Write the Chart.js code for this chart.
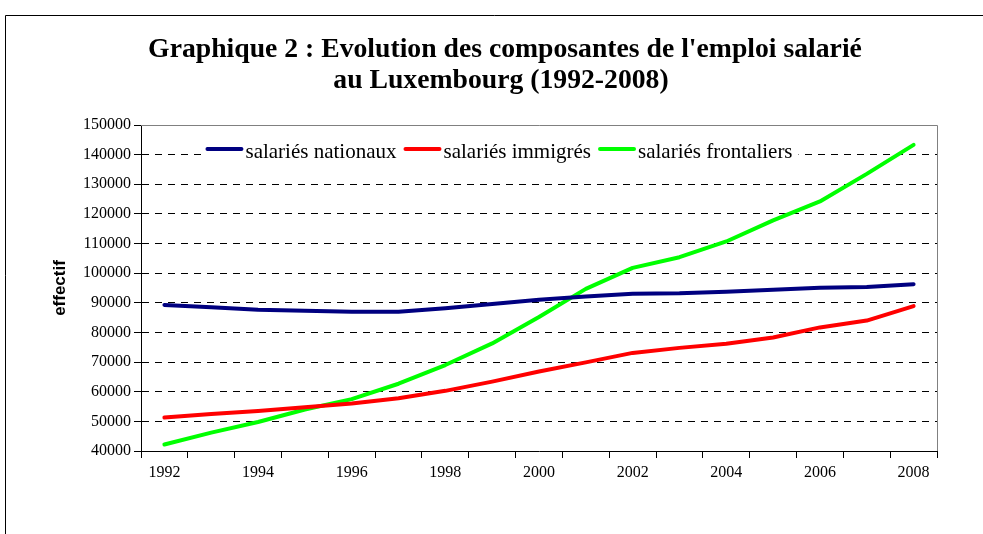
<!DOCTYPE html>
<html>
<head>
<meta charset="utf-8">
<script src="https://cdn.jsdelivr.net/npm/chart.js@4/dist/chart.umd.min.js"></script>
<style>
  html, body { margin: 0; padding: 0; background: #fff; }
  canvas { display: block; }
</style>
</head>
<body>
<canvas id="emploiChart" width="983" height="534"></canvas>
<script>
// Données
const annees = ['1992', '1993', '1994', '1995', '1996', '1997', '1998', '1999', '2000',
                '2001', '2002', '2003', '2004', '2005', '2006', '2007', '2008'];
const nationaux = [89300, 88500, 87700, 87300, 87000, 87000, 88200, 89600, 91000,
                   92100, 93100, 93200, 93700, 94400, 95100, 95300, 96300];
const immigres = [51300, 52500, 53500, 54800, 56000, 57800, 60300, 63400, 66800,
                  69900, 73100, 74800, 76200, 78300, 81700, 84000, 88900];
const frontaliers = [42200, 46200, 49800, 54000, 57500, 62700, 69000, 76300, 85200,
                     94700, 101800, 105400, 110700, 117800, 124200, 133500, 143300];
const titre = ["Graphique 2 : Evolution des composantes de l'emploi salarié",
               "au Luxembourg (1992-2008)"];

const serif = "'Liberation Serif', 'Times New Roman', serif";

// cadre, titre, bordure grise du graphique et légende
const decorPlugin = {
    id: 'decor',
    beforeDraw(chart) {
        const ctx = chart.ctx;
        ctx.save();
        ctx.fillStyle = '#fff';
        ctx.fillRect(0, 0, chart.width, chart.height);
        ctx.strokeStyle = '#000';
        ctx.lineWidth = 1;
        ctx.beginPath();
        ctx.moveTo(5.5, chart.height + 5);
        ctx.lineTo(5.5, 15.5);
        ctx.lineTo(chart.width + 5, 15.5);
        ctx.stroke();

        ctx.fillStyle = '#000';
        ctx.font = 'bold 27.7px ' + serif;
        ctx.textAlign = 'center';
        ctx.textBaseline = 'alphabetic';
        ctx.fillText(titre[0], 505, 57);
        ctx.fillText(titre[1], 501, 88);
        ctx.restore();
    },
    beforeDatasetsDraw(chart) {
        const {ctx, chartArea: a} = chart;
        ctx.save();
        ctx.strokeStyle = '#808080';
        ctx.lineWidth = 1;
        ctx.beginPath();
        ctx.moveTo(a.left, Math.round(a.top) + 0.5);
        ctx.lineTo(Math.round(a.right) + 0.5, Math.round(a.top) + 0.5);
        ctx.lineTo(Math.round(a.right) + 0.5, a.bottom);
        ctx.stroke();
        ctx.restore();
    },
    afterDatasetsDraw(chart) {
        const ctx = chart.ctx;
        const sets = chart.data.datasets;
        ctx.save();
        ctx.font = '21px ' + serif;
        const lineLen = 34, gap = 4, spacing = 9;
        let total = 0;
        sets.forEach((ds, i) => {
            total += lineLen + gap + ctx.measureText(ds.label).width + (i < sets.length - 1 ? spacing : 0);
        });
        let x = 500 - total / 2;
        ctx.fillStyle = '#fff';
        ctx.fillRect(x - 6, 139, total + 12, 26);
        ctx.textBaseline = 'alphabetic';
        sets.forEach(ds => {
            ctx.strokeStyle = ds.borderColor;
            ctx.lineWidth = 4;
            ctx.lineCap = 'round';
            ctx.beginPath();
            ctx.moveTo(x, 149);
            ctx.lineTo(x + lineLen, 149);
            ctx.stroke();
            x += lineLen + gap;
            ctx.fillStyle = '#000';
            ctx.fillText(ds.label, x, 158);
            x += ctx.measureText(ds.label).width + spacing;
        });
        ctx.restore();
    }
};

const serie = (label, data, color) => ({
    label: label,
    data: data,
    borderColor: color,
    backgroundColor: color,
    borderWidth: 4,
    borderCapStyle: 'round',
    borderJoinStyle: 'round',
    pointRadius: 0,
    tension: 0,
    fill: false
});

new Chart(document.getElementById('emploiChart'), {
    type: 'line',
    data: {
        labels: annees,
        datasets: [
            serie('salariés nationaux', nationaux, '#000080'),
            serie('salariés immigrés', immigres, '#ff0000'),
            serie('salariés frontaliers', frontaliers, '#00ff00')
        ]
    },
    plugins: [decorPlugin],
    options: {
        responsive: false,
        animation: false,
        devicePixelRatio: 1,
        layout: { padding: { left: 50, right: 46, top: 125, bottom: 0 } },
        plugins: {
            legend: { display: false },
            title: { display: false },
            tooltip: { enabled: false }
        },
        scales: {
            x: {
                type: 'category',
                offset: true,
                grid: { offset: true, drawOnChartArea: false, drawTicks: true, tickLength: 7, color: '#000' },
                border: { display: true, color: '#000', width: 1 },
                ticks: {
                    autoSkip: false,
                    maxRotation: 0,
                    padding: 5,
                    color: '#000',
                    font: { family: serif, size: 16 },
                    callback: (v, i) => (i % 2 === 0 ? annees[i] : '')
                },
                afterFit: s => { s.height = 83; }
            },
            y: {
                min: 40000,
                max: 150000,
                grid: { color: '#000', lineWidth: 1, drawTicks: true, tickLength: 7 },
                border: { display: true, color: '#000', width: 1, dash: [7, 6] },
                ticks: {
                    stepSize: 10000,
                    padding: 3,
                    color: '#000',
                    font: { family: serif, size: 16 },
                    callback: v => String(v)
                },
                title: {
                    display: true,
                    text: 'effectif',
                    color: '#000',
                    padding: { top: 0, bottom: 0 },
                    font: { family: "'Liberation Sans', Arial, sans-serif", size: 17, weight: 'bold' }
                },
                afterFit: s => { s.width = 91; }
            }
        }
    }
});
</script>
</body>
</html>
